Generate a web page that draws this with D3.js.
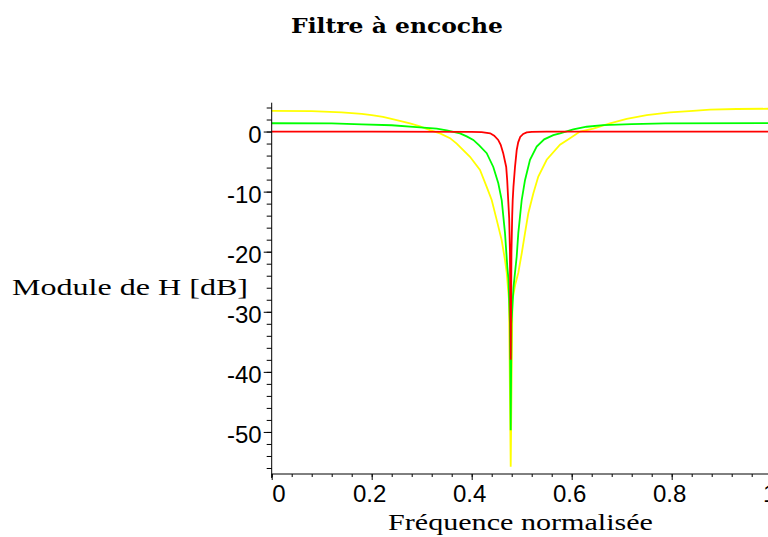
<!DOCTYPE html>
<html>
<head>
<meta charset="utf-8">
<script src="https://cdn.jsdelivr.net/npm/d3@7"></script>
<style>
  body { margin: 0; background: #fff; }
  svg { display: block; }
</style>
</head>
<body>
<script>
// values (normalised frequency, dB)
const freqYellow = [0, 0.08, 0.14, 0.18, 0.2, 0.2226, 0.25, 0.2766, 0.2966, 0.3166, 0.3366, 0.3566, 0.37, 0.3966, 0.4166, 0.43, 0.44, 0.45, 0.46, 0.4666, 0.47, 0.4745, 0.478, 0.4815, 0.487, 0.4932, 0.5, 0.5066, 0.5132, 0.5232, 0.5332, 0.55, 0.5766, 0.5966, 0.6166, 0.6432, 0.6766, 0.71, 0.75, 0.7966, 0.8426, 0.8766, 0.93, 1];
const dbYellow   = [3.45, 3.4, 3.2, 2.95, 2.75, 2.45, 1.9, 1.35, 0.85, 0.25, -0.3, -1.1, -2.0, -4.2, -6.4, -9.2, -11.4, -14.7, -18.1, -21.4, -23.5, -28, -55.8, -28, -25.5, -23.5, -20.3, -16.9, -13.6, -10.3, -7.5, -4.7, -2.2, -1.1, 0.0, 0.5, 1.35, 2.1, 2.75, 3.2, 3.45, 3.65, 3.75, 3.8];

const freqGreen = [0, 0.12, 0.18, 0.24, 0.29, 0.33, 0.35, 0.3766, 0.39, 0.4032, 0.415, 0.43, 0.4432, 0.4532, 0.46, 0.4666, 0.4712, 0.4735, 0.4765, 0.478, 0.4795, 0.4835, 0.4866, 0.49, 0.4932, 0.5, 0.5066, 0.5166, 0.53, 0.545, 0.5632, 0.5766, 0.6032, 0.63, 0.663, 0.72, 0.787, 1];
const dbGreen   = [1.38, 1.36, 1.2, 1.05, 0.75, 0.5, 0.2, -0.3, -0.8, -1.4, -2.3, -3.6, -5.9, -8.6, -11.4, -16.9, -22.5, -24.5, -32, -49.7, -32, -26, -23.5, -20.8, -16.9, -11.4, -8.1, -4.7, -2.5, -1.3, -0.6, -0.3, 0.35, 0.8, 1.08, 1.25, 1.36, 1.4];

const freqRed = [0, 0.2, 0.4, 0.42, 0.437, 0.445, 0.453, 0.458, 0.463, 0.469, 0.471, 0.473, 0.475, 0.4765, 0.478, 0.4795, 0.481, 0.482, 0.4835, 0.4866, 0.49, 0.493, 0.497, 0.503, 0.51, 0.52, 0.55, 0.8, 1];
const dbRed   = [0, 0, -0.05, -0.1, -0.3, -0.7, -1.4, -2.2, -3.6, -5.9, -8.1, -11.4, -14.5, -20, -38, -20, -14, -11.4, -9.2, -5.9, -3.1, -1.8, -0.9, -0.4, -0.15, -0.05, 0, 0, 0];

const xTicks = [0, 0.2, 0.4, 0.6, 0.8, 1];
const yTicks = [0, -10, -20, -30, -40, -50];

const width = 768, height = 537;

const svg = d3.select('body').append('svg')
    .attr('width', width)
    .attr('height', height);

// scales
const x = d3.scaleLinear().domain([0, 1]).range([271.7, 771.7]);
const y = d3.scaleLinear().domain([-57, 4.8]).range([474, 102.7]);

// title
svg.append('text')
    .attr('x', 397)
    .attr('y', 33)
    .attr('text-anchor', 'middle')
    .attr('font-family', 'DejaVu Serif')
    .attr('font-weight', 'bold')
    .attr('font-size', 20)
    .attr('textLength', 212)
    .attr('lengthAdjust', 'spacingAndGlyphs')
    .text('Filtre à encoche');

// curves, red drawn last so it sits on top
const line = d3.line()
    .x(function(d) { return x(d[0]); })
    .y(function(d) { return y(d[1]); });

const series = [
    {f: freqYellow, v: dbYellow, color: '#ffff00'},
    {f: freqGreen, v: dbGreen, color: '#00ff00'},
    {f: freqRed, v: dbRed, color: '#ff0000'}
];

svg.append('defs').append('clipPath').attr('id', 'plot')
  .append('rect').attr('x', 271).attr('y', 95).attr('width', 500).attr('height', 380);

svg.append('g').attr('clip-path', 'url(#plot)')
  .selectAll('path')
  .data(series)
  .enter().append('path')
    .attr('d', function(s) { return line(d3.zip(s.f, s.v)); })
    .attr('fill', 'none')
    .attr('stroke', function(s) { return s.color; })
    .attr('stroke-width', 1.8);

// plain hyphen for negative labels, like the original
const yFormat = function(d) { return String(d); };

// y axis: minor ticks every 2 dB, then major ticks with labels
svg.append('g')
    .attr('transform', 'translate(' + x(0) + ',0)')
    .call(d3.axisLeft(y).tickValues(d3.range(-56, 5, 2)).tickSize(5).tickFormat(''))
    .call(function(g) { g.select('.domain').remove(); });

svg.append('g')
    .attr('transform', 'translate(' + x(0) + ',0)')
    .call(d3.axisLeft(y).tickValues(yTicks).tickSize(8).tickSizeOuter(0).tickPadding(2).tickFormat(yFormat))
    .call(function(g) {
        g.select('.domain').attr('d', 'M0,' + y(4.8) + 'V478');
        g.selectAll('text').attr('dy', '0.45em');
    });

// x axis
svg.append('g')
    .attr('transform', 'translate(0,' + y(-57) + ')')
    .call(d3.axisBottom(x).tickValues(d3.range(0, 1.01, 0.04)).tickSize(3).tickFormat(''))
    .call(function(g) { g.select('.domain').remove(); });

svg.append('g')
    .attr('transform', 'translate(0,' + y(-57) + ')')
    .call(d3.axisBottom(x).tickValues(xTicks).tickSize(6).tickSizeOuter(0).tickPadding(5).tickFormat(function(d) { return String(d); }))
    .call(function(g) {
        g.select('.domain').attr('d', 'M' + x(0) + ',0H768');
        g.selectAll('text').attr('dx', -2.5);
        g.selectAll('text').filter(function(d) { return d === 0; })
            .attr('text-anchor', 'start').attr('dx', 0);
    });

svg.selectAll('.tick text')
    .attr('font-family', 'Liberation Sans')
    .attr('font-size', 24)
    .attr('fill', '#000');
svg.selectAll('.tick line, .domain').attr('stroke', '#000');

// axis titles
svg.append('text')
    .attr('x', 12)
    .attr('y', 295)
    .attr('font-family', 'Liberation Serif')
    .attr('font-size', 23)
    .attr('textLength', 236)
    .attr('lengthAdjust', 'spacingAndGlyphs')
    .text('Module de H [dB]');

svg.append('text')
    .attr('x', 388)
    .attr('y', 530)
    .attr('font-family', 'Liberation Serif')
    .attr('font-size', 23)
    .attr('textLength', 265)
    .attr('lengthAdjust', 'spacingAndGlyphs')
    .text('Fréquence normalisée');
</script>
</body>
</html>
